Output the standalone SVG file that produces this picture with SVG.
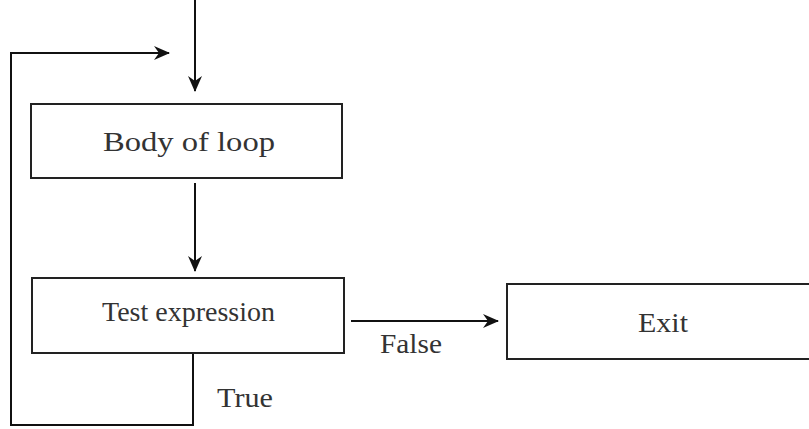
<svg xmlns="http://www.w3.org/2000/svg" width="809" height="429" viewBox="0 0 809 429">
<style>
.box{fill:#fff;stroke:#222;stroke-width:2}
.ln{fill:none;stroke:#111;stroke-width:2}
.t{font-family:"Liberation Serif","Times New Roman",serif;fill:#333;font-size:27px}
</style>
<defs>
<marker id="ah" viewBox="0 0 16 16" refX="15" refY="8" markerWidth="16" markerHeight="16" markerUnits="userSpaceOnUse" orient="auto">
<path d="M0,1 L16,8 L0,15 L5,8 z" fill="#111"/>
</marker>
</defs>
<rect width="809" height="429" fill="#fff"/>
<g id="connectors">
<line class="ln" x1="195" y1="0" x2="195" y2="91" marker-end="url(#ah)"/>
<line class="ln" x1="195" y1="183" x2="195" y2="271" marker-end="url(#ah)"/>
<line class="ln" x1="351" y1="321" x2="498" y2="321" marker-end="url(#ah)"/>
<polyline class="ln" points="193,353 193,425 11,425 11,53 169,53" marker-end="url(#ah)"/>
<text class="t" x="380" y="353" textLength="62" lengthAdjust="spacingAndGlyphs">False</text>
<text class="t" x="217" y="407" textLength="56" lengthAdjust="spacingAndGlyphs">True</text>
</g>
<g id="body">
<rect class="box" x="31" y="104" width="311" height="74"/>
<text class="t" x="103" y="151" textLength="172" lengthAdjust="spacingAndGlyphs">Body of loop</text>
</g>
<g id="test">
<rect class="box" x="32" y="278" width="312" height="75"/>
<text class="t" x="102" y="321" textLength="173" lengthAdjust="spacingAndGlyphs">Test expression</text>
</g>
<g id="exit">
<rect class="box" x="507" y="284" width="310" height="75"/>
<text class="t" x="638" y="332" textLength="50" lengthAdjust="spacingAndGlyphs">Exit</text>
</g>
</svg>
